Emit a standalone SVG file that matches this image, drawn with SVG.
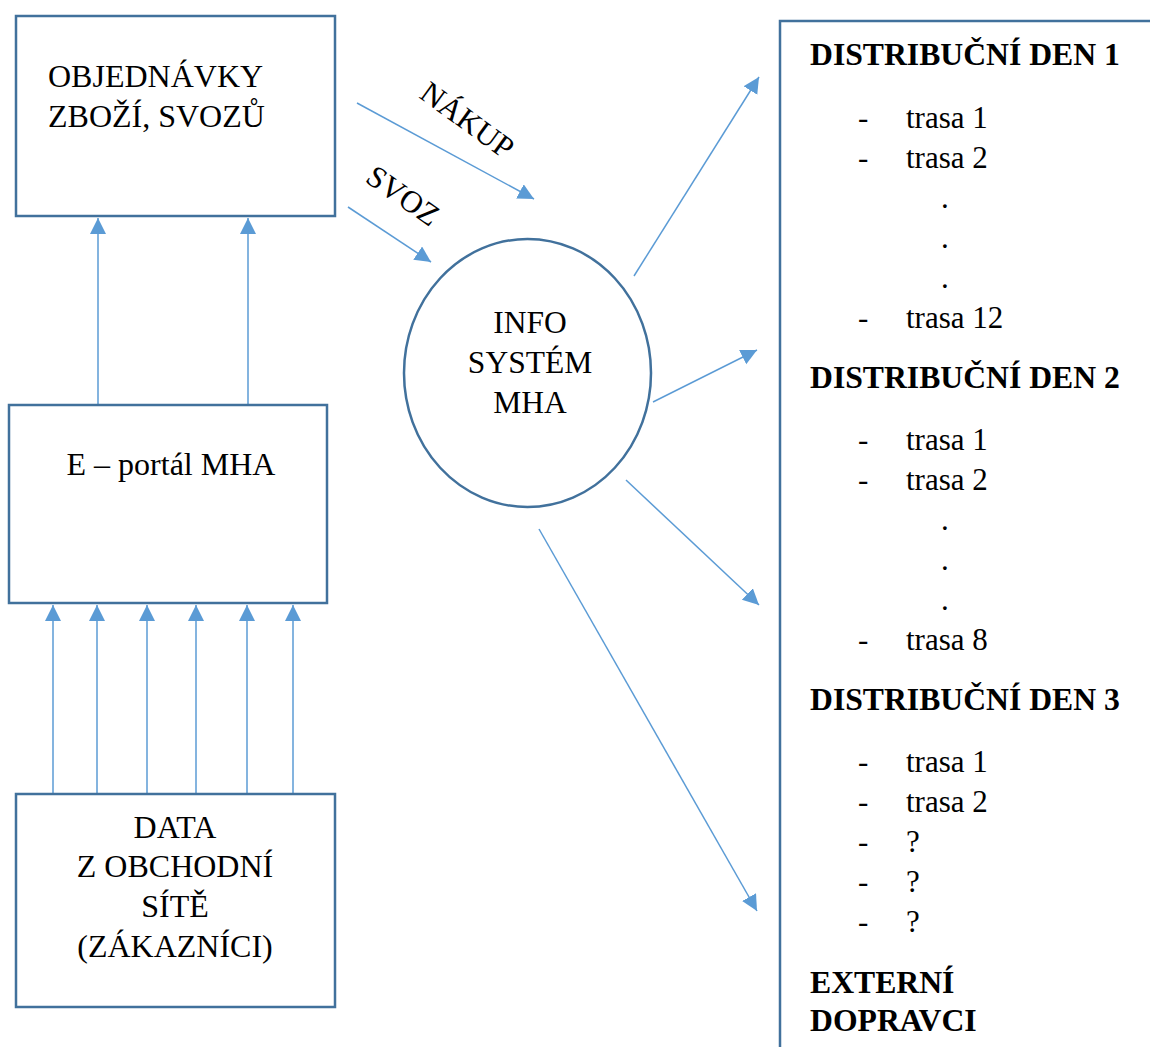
<svg xmlns="http://www.w3.org/2000/svg" width="1150" height="1047" viewBox="0 0 1150 1047">
<style>
  .box{fill:#fff;stroke:#41719C;stroke-width:2.5}
  .t{font-family:"Liberation Serif","Times New Roman","DejaVu Serif",serif;font-size:31px;fill:#000}
  .l{font-size:32px}
  .e{font-size:31.5px}
  .b{font-weight:bold;font-size:31.7px}
  .m{text-anchor:middle}
  .c{stroke:#5B9BD5;stroke-width:1.5;fill:none;marker-end:url(#ah)}
</style>
<defs>
  <marker id="ah" markerUnits="userSpaceOnUse" markerWidth="18" markerHeight="18" refX="16" refY="8" orient="auto">
    <path d="M0,0 L16,8 L0,16 Z" fill="#5B9BD5"/>
  </marker>
</defs>
<rect width="1150" height="1047" fill="#fff"/>

<g id="connectors">
  <line class="c" x1="98" y1="405" x2="98" y2="218"/>
  <line class="c" x1="248" y1="405" x2="248" y2="218"/>
  <line class="c" x1="53" y1="794" x2="53" y2="605"/>
  <line class="c" x1="97" y1="794" x2="97" y2="605"/>
  <line class="c" x1="147" y1="794" x2="147" y2="605"/>
  <line class="c" x1="196" y1="794" x2="196" y2="605"/>
  <line class="c" x1="247" y1="794" x2="247" y2="605"/>
  <line class="c" x1="293" y1="794" x2="293" y2="605"/>
  <line class="c" x1="357" y1="103" x2="534" y2="199"/>
  <line class="c" x1="348" y1="207" x2="431" y2="262"/>
  <line class="c" x1="634" y1="276" x2="759" y2="77"/>
  <line class="c" x1="653" y1="402" x2="757" y2="350"/>
  <line class="c" x1="626" y1="480" x2="759" y2="605"/>
  <line class="c" x1="539" y1="529" x2="757" y2="911"/>
  <text class="t" transform="translate(418,97) rotate(36)">NÁKUP</text>
  <text class="t" transform="translate(364,181) rotate(35)">SVOZ</text>
</g>

<g id="objednavky">
  <rect class="box" x="16" y="16" width="319" height="200"/>
  <text class="t l" x="48" y="87">OBJEDNÁVKY</text>
  <text class="t l" x="48" y="127">ZBOŽÍ, SVOZŮ</text>
</g>

<g id="eportal">
  <rect class="box" x="9" y="405" width="318" height="198"/>
  <text class="t l m" x="171" y="475">E – portál MHA</text>
</g>

<g id="data">
  <rect class="box" x="16" y="794" width="319" height="213"/>
  <text class="t l m" x="175" y="838">DATA</text>
  <text class="t l m" x="175" y="877">Z OBCHODNÍ</text>
  <text class="t l m" x="175" y="917">SÍTĚ</text>
  <text class="t l m" x="175" y="957">(ZÁKAZNÍCI)</text>
</g>

<g id="infosystem">
  <ellipse class="box" cx="527.5" cy="373" rx="123.5" ry="134"/>
  <text class="t e m" x="530" y="333">INFO</text>
  <text class="t e m" x="530" y="373">SYSTÉM</text>
  <text class="t e m" x="530" y="413">MHA</text>
</g>

<g id="distribuce">
  <path d="M1150,21 H780 V1047" fill="none" stroke="#41719C" stroke-width="2.5"/>
  <text class="t b" x="810" y="65">DISTRIBUČNÍ DEN 1</text>
  <text class="t" x="858" y="128">-</text><text class="t" x="906" y="128">trasa 1</text>
  <text class="t" x="858" y="168">-</text><text class="t" x="906" y="168">trasa 2</text>
  <text class="t" x="941" y="208">.</text>
  <text class="t" x="941" y="248">.</text>
  <text class="t" x="941" y="288">.</text>
  <text class="t" x="858" y="328">-</text><text class="t" x="906" y="328">trasa 12</text>
  <text class="t b" x="810" y="388">DISTRIBUČNÍ DEN 2</text>
  <text class="t" x="858" y="450">-</text><text class="t" x="906" y="450">trasa 1</text>
  <text class="t" x="858" y="490">-</text><text class="t" x="906" y="490">trasa 2</text>
  <text class="t" x="941" y="530">.</text>
  <text class="t" x="941" y="570">.</text>
  <text class="t" x="941" y="610">.</text>
  <text class="t" x="858" y="650">-</text><text class="t" x="906" y="650">trasa 8</text>
  <text class="t b" x="810" y="710">DISTRIBUČNÍ DEN 3</text>
  <text class="t" x="858" y="772">-</text><text class="t" x="906" y="772">trasa 1</text>
  <text class="t" x="858" y="812">-</text><text class="t" x="906" y="812">trasa 2</text>
  <text class="t" x="858" y="852">-</text><text class="t" x="906" y="852">?</text>
  <text class="t" x="858" y="892">-</text><text class="t" x="906" y="892">?</text>
  <text class="t" x="858" y="932">-</text><text class="t" x="906" y="932">?</text>
  <text class="t b" x="810" y="993">EXTERNÍ</text>
  <text class="t b" x="810" y="1031">DOPRAVCI</text>
</g>
</svg>
